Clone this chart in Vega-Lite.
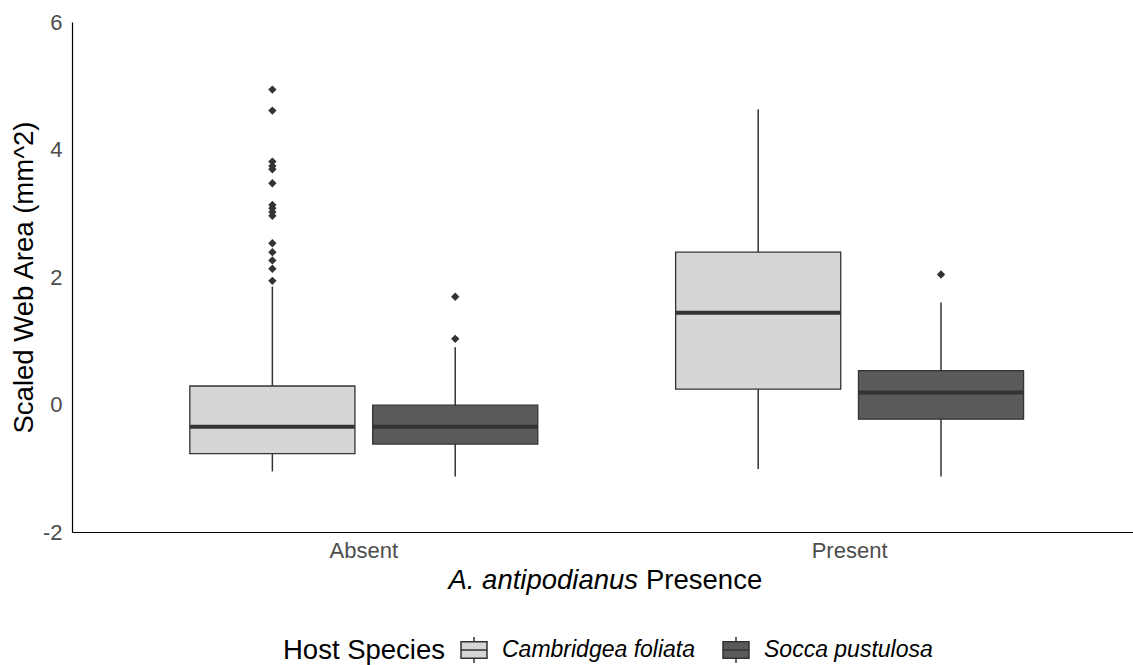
{
  "$schema": "https://vega.github.io/schema/vega-lite/v6.json",
  "autosize": {"type": "none"},
  "padding": {"left": 72, "top": 22, "right": 0, "bottom": 133},
  "width": 1061,
  "height": 510,
  "config": {
    "view": {"stroke": null},
    "font": "Liberation Sans",
    "axis": {"grid": false}
  },
  "datasets": {
    "boxes": [
      {"presence": "Absent", "species": "Cambridgea foliata", "lower": -1.05, "q1": -0.77, "median": -0.35, "q3": 0.29, "upper": 1.85},
      {"presence": "Absent", "species": "Socca pustulosa", "lower": -1.13, "q1": -0.62, "median": -0.35, "q3": -0.01, "upper": 0.90},
      {"presence": "Present", "species": "Cambridgea foliata", "lower": -1.01, "q1": 0.24, "median": 1.44, "q3": 2.39, "upper": 4.63},
      {"presence": "Present", "species": "Socca pustulosa", "lower": -1.13, "q1": -0.23, "median": 0.19, "q3": 0.53, "upper": 1.60}
    ],
    "outliers": [
      {"presence": "Absent", "species": "Cambridgea foliata", "value": 4.94},
      {"presence": "Absent", "species": "Cambridgea foliata", "value": 4.61},
      {"presence": "Absent", "species": "Cambridgea foliata", "value": 3.81},
      {"presence": "Absent", "species": "Cambridgea foliata", "value": 3.74},
      {"presence": "Absent", "species": "Cambridgea foliata", "value": 3.69},
      {"presence": "Absent", "species": "Cambridgea foliata", "value": 3.47},
      {"presence": "Absent", "species": "Cambridgea foliata", "value": 3.13},
      {"presence": "Absent", "species": "Cambridgea foliata", "value": 3.08},
      {"presence": "Absent", "species": "Cambridgea foliata", "value": 3.02},
      {"presence": "Absent", "species": "Cambridgea foliata", "value": 2.96},
      {"presence": "Absent", "species": "Cambridgea foliata", "value": 2.53},
      {"presence": "Absent", "species": "Cambridgea foliata", "value": 2.39},
      {"presence": "Absent", "species": "Cambridgea foliata", "value": 2.26},
      {"presence": "Absent", "species": "Cambridgea foliata", "value": 2.13},
      {"presence": "Absent", "species": "Cambridgea foliata", "value": 1.94},
      {"presence": "Absent", "species": "Socca pustulosa", "value": 1.69},
      {"presence": "Absent", "species": "Socca pustulosa", "value": 1.03},
      {"presence": "Present", "species": "Socca pustulosa", "value": 2.04}
    ]
  },
  "resolve": {"axis": {"x": "independent"}},
  "layer": [
    {
      "data": {"name": "boxes"},
      "mark": {"type": "rule", "color": "#333333", "strokeWidth": 1.5},
      "encoding": {
        "x": {
          "field": "presence", "type": "nominal",
          "scale": {"domain": ["Absent", "Present"], "paddingInner": 0, "paddingOuter": 0.092, "align": 0.547},
          "axis": {
            "orient": "bottom",
            "labelAngle": 0, "labelFontSize": 22, "labelColor": "#4D4D4D", "labelPadding": 8,
            "ticks": false, "tickSize": 0, "domain": true, "domainColor": "#000000", "domainWidth": 1.2,
            "title": "A. antipodianus", "titleFontStyle": "italic", "titleFontWeight": "normal", "titleFontSize": 27.5,
            "titleColor": "#000000", "titleX": 376, "titleY": 56, "titleAlign": "left", "titleBaseline": "alphabetic", "titleAngle": 0
          }
        },
        "xOffset": {
          "field": "species", "type": "nominal",
          "scale": {"domain": ["Cambridgea foliata", "Socca pustulosa"], "paddingInner": 0.097, "paddingOuter": 0.377}
        },
        "y": {
          "field": "lower", "type": "quantitative",
          "scale": {"domain": [-2, 6], "nice": false, "zero": false},
          "axis": {
            "values": [-2, 0, 2, 4, 6], "labelExpr": "'' + datum.value",
            "labelFontSize": 22, "labelColor": "#4D4D4D", "labelPadding": 10,
            "ticks": false, "tickSize": 0, "domain": true, "domainColor": "#000000", "domainWidth": 1.2,
            "title": "Scaled Web Area (mm^2)", "titleFontSize": 27.5, "titleFontWeight": "normal", "titleColor": "#000000",
            "titleX": -40, "titleY": 255, "titleAngle": 270, "titleAlign": "center", "titleBaseline": "alphabetic"
          }
        },
        "y2": {"field": "upper"}
      }
    },
    {
      "data": {"name": "boxes"},
      "mark": {"type": "bar", "stroke": "#333333", "strokeWidth": 1.3},
      "encoding": {
        "x": {"field": "presence", "type": "nominal", "axis": null,
          "scale": {"domain": ["Absent", "Present"], "paddingInner": 0, "paddingOuter": 0.092, "align": 0.547}},
        "xOffset": {"field": "species", "type": "nominal",
          "scale": {"domain": ["Cambridgea foliata", "Socca pustulosa"], "paddingInner": 0.097, "paddingOuter": 0.377}},
        "y": {"field": "q1", "type": "quantitative"},
        "y2": {"field": "q3"},
        "fill": {
          "field": "species", "type": "nominal",
          "scale": {"domain": ["Cambridgea foliata", "Socca pustulosa"], "range": ["#D6D6D6", "#5A5A5A"]},
          "legend": {
            "orient": "none", "legendX": 211, "legendY": 614, "direction": "horizontal",
            "title": "Host Species", "titleOrient": "left", "titleFontSize": 27.5, "titleFontWeight": "normal",
            "titleColor": "#000000", "titlePadding": 14, "titleBaseline": "middle",
            "labelFontSize": 23, "labelFontStyle": "italic", "labelColor": "#000000", "labelOffset": 14, "labelLimit": 400,
            "columnPadding": 24,
            "symbolType": "M-1,-0.64H1V0.64H-1Z M-1,0H1 M0,-1V-0.64 M0,0.64V1",
            "symbolSize": 676, "symbolStrokeColor": "#333333", "symbolStrokeWidth": 1.5
          }
        }
      }
    },
    {
      "data": {"name": "boxes"},
      "mark": {"type": "tick", "color": "#333333", "size": 165, "thickness": 4, "opacity": 1},
      "encoding": {
        "x": {"field": "presence", "type": "nominal", "axis": null,
          "scale": {"domain": ["Absent", "Present"], "paddingInner": 0, "paddingOuter": 0.092, "align": 0.547}},
        "xOffset": {"field": "species", "type": "nominal",
          "scale": {"domain": ["Cambridgea foliata", "Socca pustulosa"], "paddingInner": 0.097, "paddingOuter": 0.377}},
        "y": {"field": "median", "type": "quantitative"}
      }
    },
    {
      "data": {"name": "outliers"},
      "mark": {"type": "point", "shape": "diamond", "filled": true, "color": "#333333", "size": 70, "opacity": 1},
      "encoding": {
        "x": {
          "field": "presence", "type": "nominal",
          "scale": {"domain": ["Absent", "Present"], "paddingInner": 0, "paddingOuter": 0.092, "align": 0.547},
          "axis": {
            "orient": "bottom",
            "labels": false, "ticks": false, "domain": false,
            "title": "Presence", "titleFontWeight": "normal", "titleFontSize": 27.5, "titleColor": "#000000",
            "titleX": 573.5, "titleY": 56, "titleAlign": "left", "titleBaseline": "alphabetic", "titleAngle": 0
          }
        },
        "xOffset": {"field": "species", "type": "nominal",
          "scale": {"domain": ["Cambridgea foliata", "Socca pustulosa"], "paddingInner": 0.097, "paddingOuter": 0.377}},
        "y": {"field": "value", "type": "quantitative"}
      }
    }
  ]
}
